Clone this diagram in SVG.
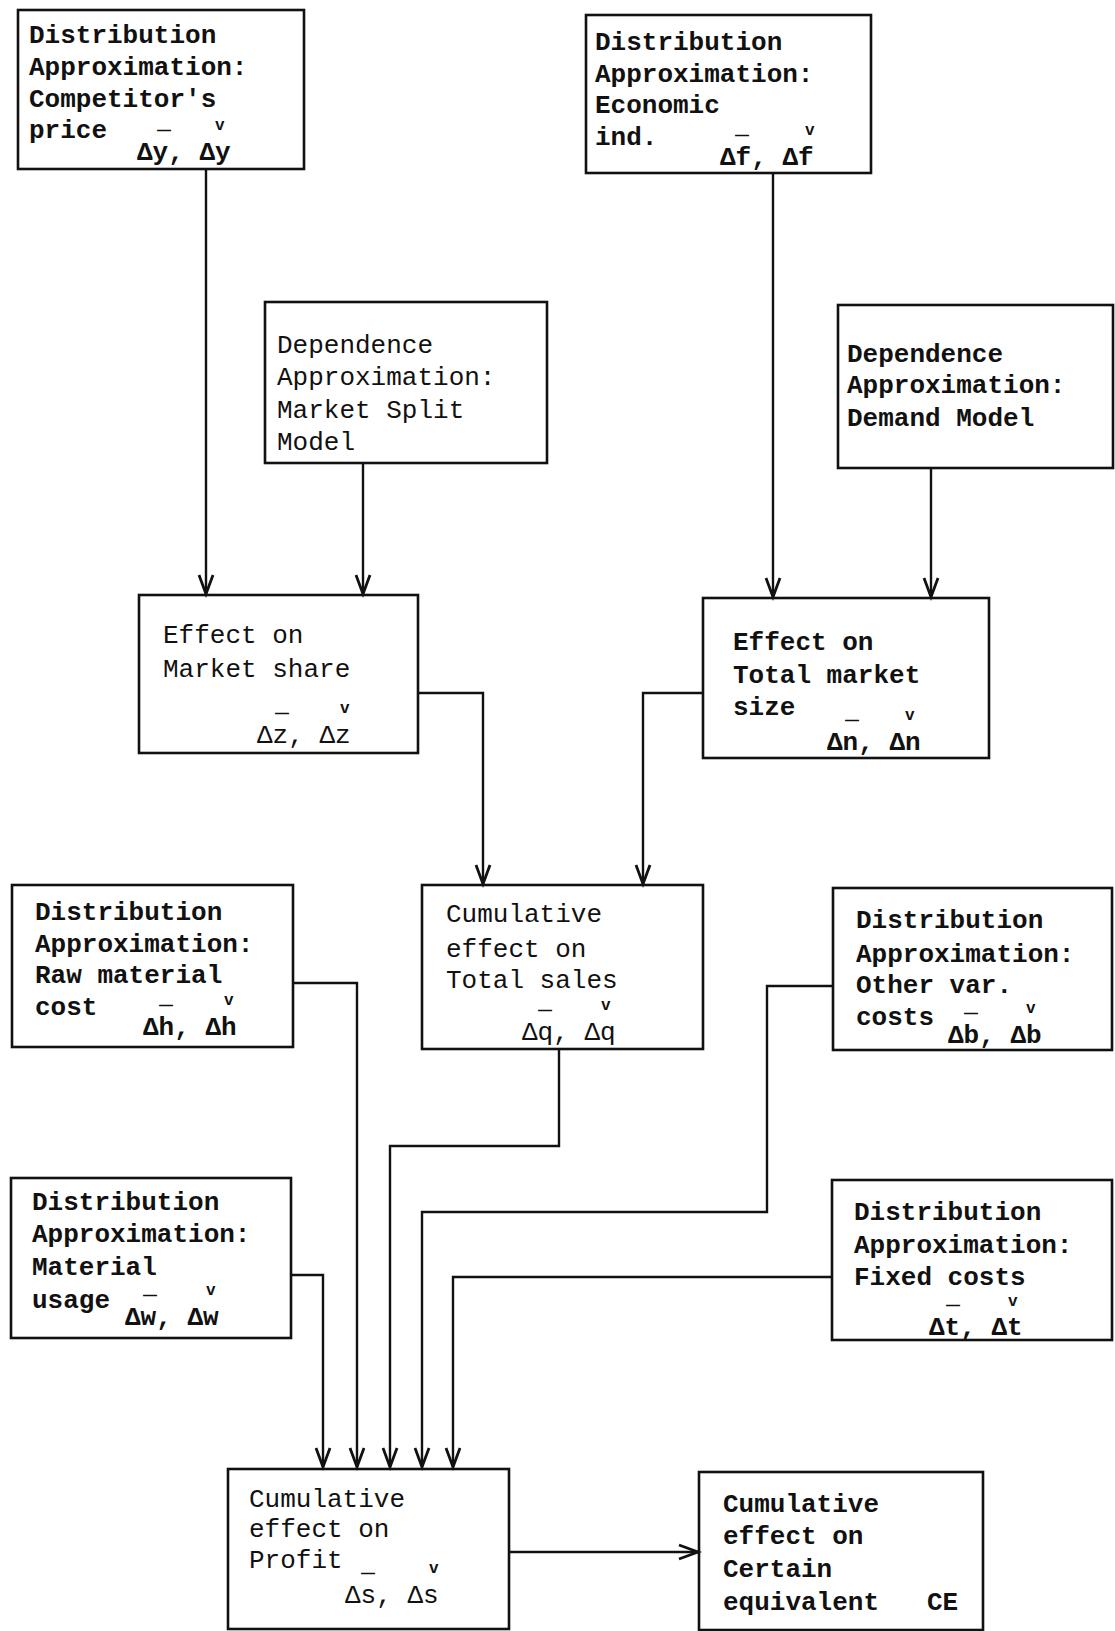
<svg xmlns="http://www.w3.org/2000/svg" width="1115" height="1631" viewBox="0 0 1115 1631">
<style>
.box{fill:none;stroke:#111;stroke-width:2.6}
.t{font-family:"Liberation Mono","Courier New",monospace;font-size:26px;font-weight:bold;fill:#111}
.l{font-weight:normal}
.b{font-family:"Liberation Sans",Arial,sans-serif;font-size:14px;font-weight:bold;fill:#111}
.v{font-family:"Liberation Mono","Courier New",monospace;font-size:16px;font-weight:bold;fill:#111}
.c{fill:none;stroke:#111;stroke-width:2.4}
</style>
<defs>
<marker id="ah" markerUnits="userSpaceOnUse" markerWidth="30" markerHeight="30" refX="0" refY="0" orient="auto" overflow="visible">
<path d="M-19,-7 L0,0 L-19,7" fill="none" stroke="#111" stroke-width="2.8" stroke-linejoin="miter"/>
</marker>
</defs>
<rect width="1115" height="1631" fill="#fff"/>

<g id="connectors">
<path class="c" d="M206,169 V594" marker-end="url(#ah)"/>
<path class="c" d="M363,463 V594" marker-end="url(#ah)"/>
<path class="c" d="M773,173 V597" marker-end="url(#ah)"/>
<path class="c" d="M931,468 V597" marker-end="url(#ah)"/>
<path class="c" d="M418,693 H483 V884" marker-end="url(#ah)"/>
<path class="c" d="M703,693 H643 V884" marker-end="url(#ah)"/>
<path class="c" d="M291,1275 H323 V1467" marker-end="url(#ah)"/>
<path class="c" d="M293,983 H357 V1467" marker-end="url(#ah)"/>
<path class="c" d="M559,1048 V1146 H390 V1467" marker-end="url(#ah)"/>
<path class="c" d="M833,986 H767 V1212 H422 V1467" marker-end="url(#ah)"/>
<path class="c" d="M832,1277 H453 V1467" marker-end="url(#ah)"/>
<path class="c" d="M509,1552 H698" marker-end="url(#ah)"/>
</g>

<g id="competitor-price">
<rect class="box" x="18" y="10" width="286" height="159"/>
<text class="t" x="29" y="43">Distribution</text>
<text class="t" x="29" y="75">Approximation:</text>
<text class="t" x="29" y="107">Competitor's</text>
<text class="t" x="29" y="138">price</text>
<text class="t" x="137" y="160">Δy, Δy</text>
<text class="b" x="157" y="135">—</text>
<text class="v" x="215" y="130">v</text>
</g>

<g id="economic-ind">
<rect class="box" x="586" y="15" width="285" height="158"/>
<text class="t" x="595" y="50">Distribution</text>
<text class="t" x="595" y="82">Approximation:</text>
<text class="t" x="595" y="113">Economic</text>
<text class="t" x="595" y="145">ind.</text>
<text class="t" x="720" y="165">Δf, Δf</text>
<text class="b" x="735" y="140">—</text>
<text class="v" x="805" y="135">v</text>
</g>

<g id="market-split-model">
<rect class="box" x="265" y="302" width="282" height="161"/>
<text class="t l" x="277" y="353">Dependence</text>
<text class="t l" x="277" y="385">Approximation:</text>
<text class="t l" x="277" y="418">Market Split</text>
<text class="t l" x="277" y="450">Model</text>
</g>

<g id="demand-model">
<rect class="box" x="838" y="305" width="275" height="163"/>
<text class="t" x="847" y="362">Dependence</text>
<text class="t" x="847" y="393">Approximation:</text>
<text class="t" x="847" y="426">Demand Model</text>
</g>

<g id="market-share">
<rect class="box" x="139" y="595" width="279" height="158"/>
<text class="t l" x="163" y="643">Effect on</text>
<text class="t l" x="163" y="677">Market share</text>
<text class="t l" x="257" y="743">Δz, Δz</text>
<text class="b" x="275" y="718">—</text>
<text class="v" x="340" y="713">v</text>
</g>

<g id="total-market-size">
<rect class="box" x="703" y="598" width="286" height="160"/>
<text class="t" x="733" y="650">Effect on</text>
<text class="t" x="733" y="683">Total market</text>
<text class="t" x="733" y="715">size</text>
<text class="t" x="827" y="750">Δn, Δn</text>
<text class="b" x="845" y="725">—</text>
<text class="v" x="905" y="720">v</text>
</g>

<g id="total-sales">
<rect class="box" x="422" y="885" width="281" height="164"/>
<text class="t l" x="446" y="922">Cumulative</text>
<text class="t l" x="446" y="957">effect on</text>
<text class="t l" x="446" y="988">Total sales</text>
<text class="t l" x="522" y="1040">Δq, Δq</text>
<text class="b" x="538" y="1015">—</text>
<text class="v" x="601" y="1010">v</text>
</g>

<g id="raw-material-cost">
<rect class="box" x="12" y="885" width="281" height="162"/>
<text class="t" x="35" y="920">Distribution</text>
<text class="t" x="35" y="952">Approximation:</text>
<text class="t" x="35" y="983">Raw material</text>
<text class="t" x="35" y="1015">cost</text>
<text class="t" x="143" y="1035">Δh, Δh</text>
<text class="b" x="159" y="1010">—</text>
<text class="v" x="224" y="1005">v</text>
</g>

<g id="other-var-costs">
<rect class="box" x="833" y="888" width="279" height="162"/>
<text class="t" x="856" y="928">Distribution</text>
<text class="t" x="856" y="962">Approximation:</text>
<text class="t" x="856" y="993">Other var.</text>
<text class="t" x="856" y="1025">costs</text>
<text class="t" x="948" y="1043">Δb, Δb</text>
<text class="b" x="964" y="1018">—</text>
<text class="v" x="1026" y="1013">v</text>
</g>

<g id="material-usage">
<rect class="box" x="11" y="1178" width="280" height="160"/>
<text class="t" x="32" y="1210">Distribution</text>
<text class="t" x="32" y="1242">Approximation:</text>
<text class="t" x="32" y="1275">Material</text>
<text class="t" x="32" y="1308">usage</text>
<text class="t" x="125" y="1325">Δw, Δw</text>
<text class="b" x="143" y="1300">—</text>
<text class="v" x="206" y="1295">v</text>
</g>

<g id="fixed-costs">
<rect class="box" x="832" y="1180" width="280" height="160"/>
<text class="t" x="854" y="1220">Distribution</text>
<text class="t" x="854" y="1253">Approximation:</text>
<text class="t" x="854" y="1285">Fixed costs</text>
<text class="t" x="929" y="1335">Δt, Δt</text>
<text class="b" x="946" y="1310">—</text>
<text class="v" x="1008" y="1306">v</text>
</g>

<g id="profit">
<rect class="box" x="228" y="1469" width="281" height="160"/>
<text class="t l" x="249" y="1507">Cumulative</text>
<text class="t l" x="249" y="1537">effect on</text>
<text class="t l" x="249" y="1568">Profit</text>
<text class="t l" x="345" y="1603">Δs, Δs</text>
<text class="b" x="361" y="1578">—</text>
<text class="v" x="429" y="1573">v</text>
</g>

<g id="certain-equivalent">
<rect class="box" x="699" y="1472" width="284" height="158"/>
<text class="t" x="723" y="1512">Cumulative</text>
<text class="t" x="723" y="1544">effect on</text>
<text class="t" x="723" y="1577">Certain</text>
<text class="t" x="723" y="1610">equivalent</text>
<text class="t" x="927" y="1610">CE</text>
</g>
</svg>
